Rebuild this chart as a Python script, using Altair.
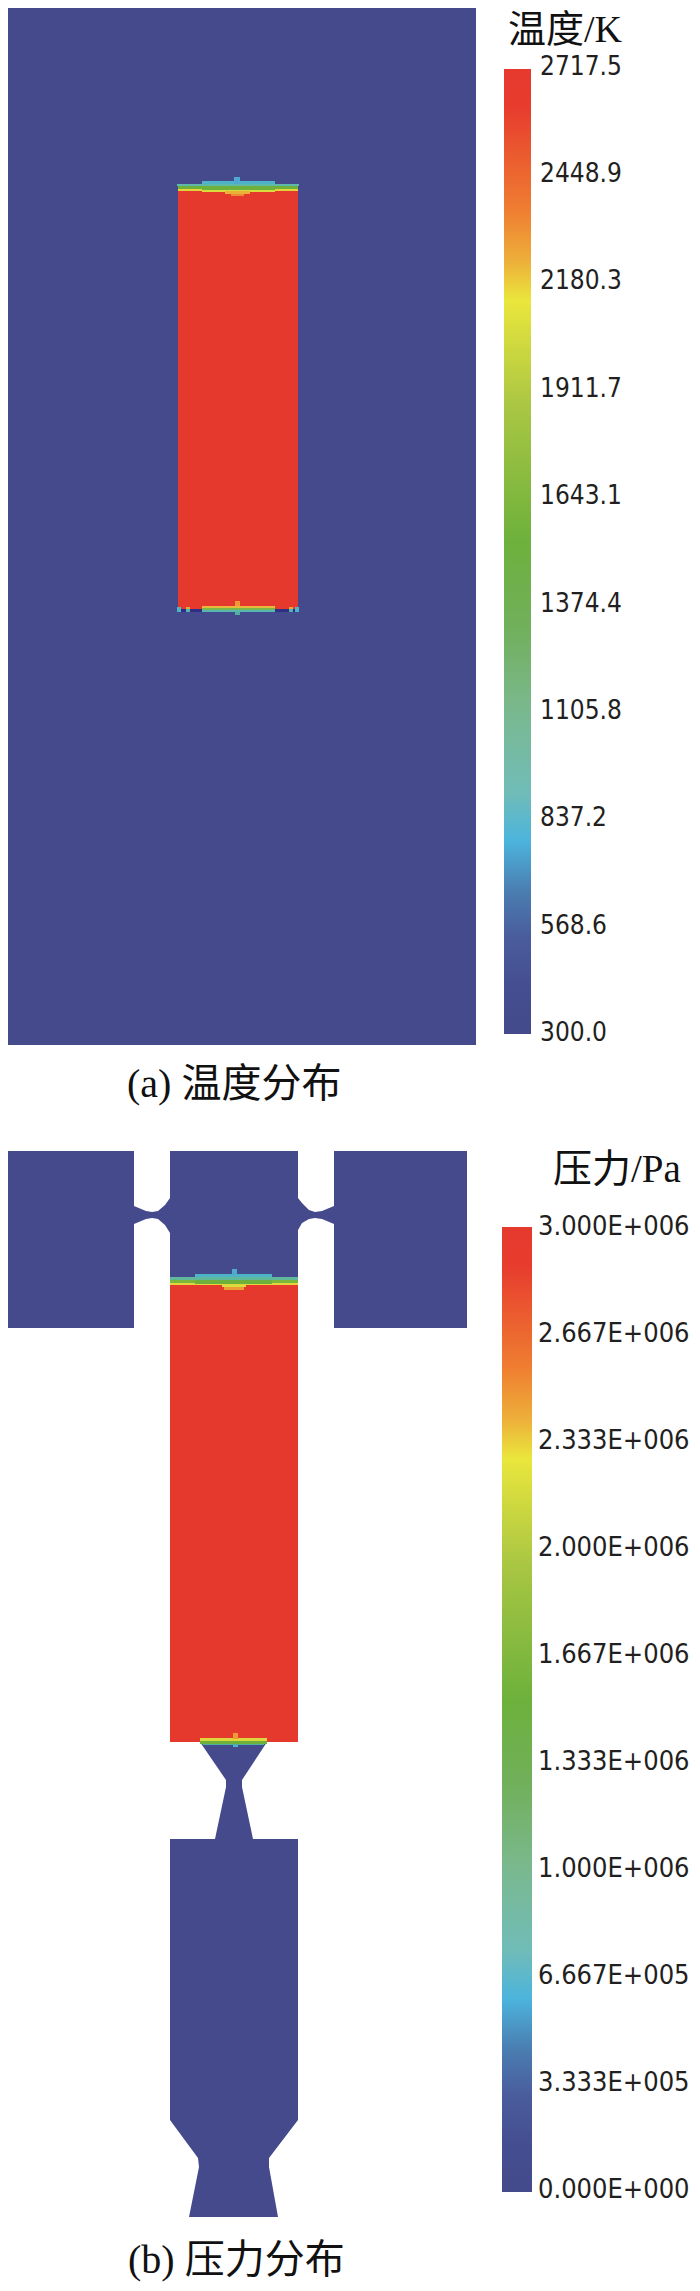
import altair as alt
import pandas as pd

# All geometry is in the reference's pixel space (x to the right, y downward).
X_DOMAIN = [8, 692]
Y_DOMAIN = [8, 2283]
BLUE = "#444a8c"
RED = "#e6392e"

# Colour ramp, top of bar to bottom
ramp_offsets = [0, 0.04, 0.145, 0.20, 0.24, 0.35, 0.49, 0.58, 0.66, 0.75, 0.80, 0.85, 0.90, 0.95, 1]
ramp_colours = ["#e6392e", "#e73c2e", "#ef7d31", "#edb03a", "#eae63c", "#a9c643", "#6db13c", "#71b05c",
                "#7ab88c", "#70bcb8", "#4cb4dc", "#4a7fb2", "#4a5c9c", "#444e90", "#444a8c"]

# Panel (a)
a_block = [(0, 476, 5, 1045, BLUE), (178, 298, 190, 610, RED)]
a_bands = [
    (202, 275, 181, 185, "#4fb3c8"), (234, 240, 177, 184, "#4fa8d0"),
    (177, 299, 184, 186, "#5fb8a8"), (178, 298, 186, 189, "#6db13c"),
    (178, 298, 189, 191, "#e2d63c"), (202, 275, 186, 190, "#6db13c"),
    (202, 275, 190, 192, "#d8dc3c"), (225, 250, 191, 194, "#eab03a"),
    (231, 244, 194, 196, "#ee8a33"),
    (178, 298, 609, 612, "#2f2f85"), (202, 275, 606, 608, "#e8b83c"),
    (202, 275, 608, 610, "#7ab84c"), (202, 275, 610, 612, "#56b8b0"),
    (235, 240, 601, 606, "#ef9a36"), (235, 240, 612, 615, "#4fb0a0"),
    (177, 181, 607, 612, "#50b4c8"), (186, 190, 607, 609, "#e8a83a"),
    (186, 190, 609, 612, "#50b4b0"), (289, 293, 607, 609, "#e8a83a"),
    (289, 293, 609, 612, "#50b4b0"), (295, 299, 607, 612, "#50b4c8"),
]

# Panel (b): rectangles
b_blocks = [
    (0, 134, 1151, 1328, BLUE), (170, 298, 1151, 1285, BLUE),
    (334, 467, 1151, 1328, BLUE), (170, 298, 1285, 1742, RED),
]
# Panel (b): channels as (x, top, bottom) profiles
neck_left_x = [132, 134, 146, 152, 158, 165, 170, 172]
neck_left_top = [1206, 1206, 1211, 1212, 1211, 1205, 1198, 1198]
neck_left_bot = [1224, 1224, 1219, 1218, 1219, 1225, 1233, 1233]
neck_right_x = [296, 298, 302, 309, 315, 322, 334, 336]
neck_right_top = [1198, 1198, 1203, 1210, 1212, 1211, 1206, 1206]
neck_right_bot = [1230, 1230, 1223, 1219, 1218, 1219, 1224, 1224]
# Panel (b): nozzles as (y, left, right) profiles
noz1_y = [1742, 1780, 1787, 1839]
noz1_l = [200, 226, 226, 215]
noz1_r = [267, 242, 242, 253]
noz2_y = [1839, 2120, 2158, 2167, 2217]
noz2_l = [170, 170, 198, 199, 189]
noz2_r = [298, 298, 269, 269, 278]
b_bands = [
    (195, 272, 1274, 1277, "#4fb3c8"), (232, 237, 1269, 1275, "#4fa8d0"),
    (170, 298, 1277, 1280, "#5fb89c"), (170, 298, 1280, 1283, "#7ab63c"),
    (170, 298, 1283, 1285, "#e2d63c"), (195, 272, 1280, 1284, "#6db13c"),
    (222, 246, 1285, 1287, "#d8dc3c"), (224, 244, 1287, 1290, "#ee9a36"),
    (200, 267, 1738, 1741, "#dcd63c"), (200, 267, 1741, 1744, "#6db13c"),
    (203, 264, 1744, 1745, "#4fb0a0"), (233, 238, 1733, 1739, "#ef9a36"),
    (233, 238, 1745, 1747, "#4fb3c8"),
]

# Legends
temp_labels = ["2717.5", "2448.9", "2180.3", "1911.7", "1643.1", "1374.4", "1105.8", "837.2", "568.6", "300.0"]
temp_y = [67, 174, 281, 389, 496, 604, 711, 818, 926, 1033]
pres_labels = ["3.000E+006", "2.667E+006", "2.333E+006", "2.000E+006", "1.667E+006",
               "1.333E+006", "1.000E+006", "6.667E+005", "3.333E+005", "0.000E+000"]
pres_y = [1227, 1334, 1441, 1548, 1655, 1762, 1869, 1976, 2083, 2190]
bars = [(504, 531, 69, 1034), (502, 532, 1227, 2192)]

# Captions
heads = [("温度/K", 508, 31, 38), ("压力/Pa", 553, 1170, 39), ("(a) 温度分布", 127, 1085, 40), ("(b) 压力分布", 128, 2261, 40)]

xs = alt.Scale(domain=X_DOMAIN, range=[0, 684], nice=False, zero=False)
ys = alt.Scale(domain=Y_DOMAIN, range=[0, 2275], nice=False, zero=False)
X = lambda f: alt.X(f, type="quantitative", scale=xs, axis=None)
Y = lambda f: alt.Y(f, type="quantitative", scale=ys, axis=None)


def rects(rows):
    df = pd.DataFrame(rows, columns=["x", "x2", "y", "y2", "c"])
    return alt.Chart(df).mark_rect(clip=True).encode(
        x=X("x"), x2="x2", y=Y("y"), y2="y2", color=alt.Color("c:N", scale=None))


def across(x, top, bot):
    df = pd.DataFrame({"x": x, "t": top, "b": bot})
    return alt.Chart(df).mark_area(color=BLUE, orient="vertical").encode(x=X("x"), y=Y("t"), y2="b")


def down(y, l, r):
    df = pd.DataFrame({"y": y, "l": l, "r": r})
    return alt.Chart(df).mark_area(color=BLUE, orient="horizontal").encode(y=Y("y"), x=X("l"), x2="r")


def bar(b):
    df = pd.DataFrame([dict(x=b[0], x2=b[1], y=b[2], y2=b[3])])
    grad = alt.LinearGradient(gradient="linear", x1=0, x2=0, y1=0, y2=1,
                              stops=[alt.GradientStop(offset=o, color=c) for o, c in zip(ramp_offsets, ramp_colours)])
    return alt.Chart(df).mark_rect(fill=grad).encode(x=X("x"), x2="x2", y=Y("y"), y2="y2")


def ticks(labels, y, size, x0):
    df = pd.DataFrame({"t": labels, "y": y, "x": [x0] * len(y)})
    return alt.Chart(df).mark_text(align="left", baseline="middle", font="DejaVu Sans Condensed",
                                   fontSize=size, color="#231f20").encode(x=X("x"), y=Y("y"), text="t")


def head(h):
    df = pd.DataFrame([dict(t=h[0], x=h[1], y=h[2])])
    return alt.Chart(df).mark_text(align="left", baseline="middle", font="Liberation Serif, Noto Sans CJK SC",
                                   fontSize=h[3], color="#111111").encode(x=X("x"), y=Y("y"), text="t")


layers = [
    rects(a_block),
    rects(a_bands),
    rects(b_blocks),
    across(neck_left_x, neck_left_top, neck_left_bot),
    across(neck_right_x, neck_right_top, neck_right_bot),
    down(noz1_y, noz1_l, noz1_r),
    down(noz2_y, noz2_l, noz2_r),
    rects(b_bands),
    bar(bars[0]), bar(bars[1]),
    ticks(temp_labels, temp_y, 26, 540),
    ticks(pres_labels, pres_y, 27, 538),
] + [head(h) for h in heads]

chart = alt.layer(*layers).properties(
    width=684, height=2275, padding=0, autosize=alt.AutoSizeParams(type="none"),
).configure_view(stroke=None)

chart.save("out.html", embed_options={"renderer": "svg", "actions": False})
